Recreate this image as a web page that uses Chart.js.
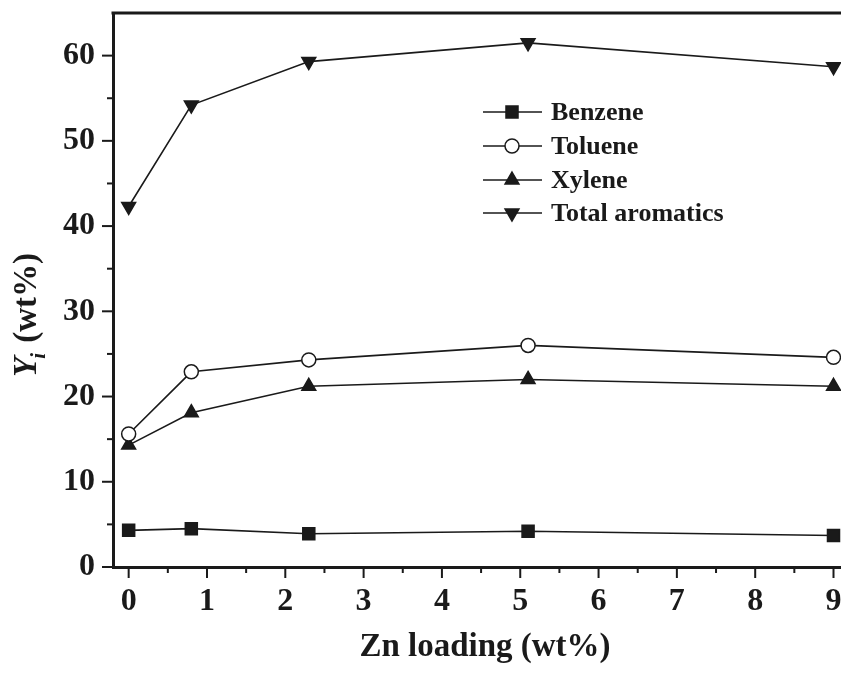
<!DOCTYPE html>
<html lang="en">
<head>
  <meta charset="UTF-8" />
  <title>Yield vs Zn loading</title>
  <script src="https://cdn.jsdelivr.net/npm/chart.js"></script>
  <style>
    html, body {
      margin: 0;
      padding: 0;
      background: #fff;
      overflow: hidden;
    }
  </style>
</head>
<body>
  <canvas id="yieldChart" width="870" height="675"></canvas>
  <script>
    // data
    const znLoading = [0, 0.8, 2.3, 5.1, 9];
    const benzene = [4.3, 4.5, 3.9, 4.2, 3.7];
    const toluene = [15.6, 22.9, 24.3, 26.0, 24.6];
    const xylene = [14.3, 18.1, 21.2, 22.0, 21.2];
    const totalAromatics = [42.3, 54.2, 59.3, 61.5, 58.7];

    const xTicks = [0, 1, 2, 3, 4, 5, 6, 7, 8, 9];
    const xMinorTicks = [0.5, 1.5, 2.5, 3.5, 4.5, 5.5, 6.5, 7.5, 8.5];
    const yTicks = [0, 10, 20, 30, 40, 50, 60];
    const yMinorTicks = [5, 15, 25, 35, 45, 55];

    const ink = '#1a1a1a';
    const serif = '"Liberation Serif", "DejaVu Serif", serif';

    function toPoints(ys) {
      return znLoading.map((x, i) => ({ x: x, y: ys[i] }));
    }

    function series(label, ys, style, extra) {
      return Object.assign({
        label: label,
        data: toPoints(ys),
        borderColor: ink,
        borderWidth: 1.6,
        pointStyle: style,
        pointBackgroundColor: ink,
        pointBorderColor: ink,
        pointBorderWidth: 1.5,
        pointRadius: 8,
        tension: 0
      }, extra || {});
    }

    // ticks, top frame, titles and legend
    const decorations = {
      id: 'decorations',
      afterDraw(chart) {
        const ctx = chart.ctx;
        const area = chart.chartArea;
        const xs = chart.scales.x;
        const ys = chart.scales.y;
        ctx.save();
        ctx.strokeStyle = ink;

        ctx.lineWidth = 3;
        ctx.beginPath();
        ctx.moveTo(area.left - 1.5, area.top);
        ctx.lineTo(area.right, area.top);
        ctx.stroke();

        ctx.lineWidth = 2;
        const tick = (vals, len, isX) => {
          vals.forEach(v => {
            ctx.beginPath();
            if (isX) {
              const px = xs.getPixelForValue(v);
              ctx.moveTo(px, area.bottom);
              ctx.lineTo(px, area.bottom + len);
            } else {
              const py = ys.getPixelForValue(v);
              ctx.moveTo(area.left, py);
              ctx.lineTo(area.left - len, py);
            }
            ctx.stroke();
          });
        };
        tick(xTicks, 11, true);
        tick(xMinorTicks, 6, true);
        tick(yTicks, 11, false);
        tick(yMinorTicks, 6, false);

        // x title
        ctx.fillStyle = ink;
        ctx.font = 'bold 33px ' + serif;
        ctx.textAlign = 'center';
        ctx.textBaseline = 'alphabetic';
        ctx.fillText('Zn loading (wt%)', 485, 656);

        // y title with subscript
        ctx.save();
        ctx.translate(36, 315);
        ctx.rotate(-Math.PI / 2);
        ctx.textAlign = 'left';
        const bigI = 'italic bold 33px ' + serif;
        const subI = 'italic bold 21px ' + serif;
        const bold = 'bold 33px ' + serif;
        ctx.font = bigI;
        const wY = ctx.measureText('Y').width;
        ctx.font = subI;
        const wi = ctx.measureText('i').width;
        ctx.font = bold;
        const wRest = ctx.measureText(' (wt%)').width;
        let x0 = -(wY + wi + wRest) / 2;
        ctx.font = bigI;
        ctx.fillText('Y', x0, 0);
        ctx.font = subI;
        ctx.fillText('i', x0 + wY - 2, 9);
        ctx.font = bold;
        ctx.fillText(' (wt%)', x0 + wY + wi, 0);
        ctx.restore();

        // legend
        const rowY = [112, 146, 180, 213];
        ctx.font = 'bold 26px ' + serif;
        ctx.textAlign = 'left';
        ctx.textBaseline = 'middle';
        chart.data.datasets.forEach((ds, i) => {
          const y = rowY[i];
          ctx.lineWidth = 1.6;
          ctx.strokeStyle = ink;
          ctx.beginPath();
          ctx.moveTo(483, y);
          ctx.lineTo(542, y);
          ctx.stroke();
          ctx.fillStyle = ds.pointBackgroundColor;
          ctx.lineWidth = ds.pointBorderWidth;
          Chart.helpers.drawPoint(ctx, {
            pointStyle: ds.pointStyle,
            rotation: ds.pointRotation || 0,
            radius: ds.pointRadius,
            borderWidth: ds.pointBorderWidth
          }, 512, y);
          ctx.fillStyle = ink;
          ctx.fillText(ds.label, 551, y + 1);
        });
        ctx.restore();
      }
    };

    const chart = new Chart(document.getElementById('yieldChart'), {
      type: 'line',
      data: {
        datasets: [
          series('Benzene', benzene, 'rect', { pointRadius: 8.5 }),
          series('Toluene', toluene, 'circle', { pointBackgroundColor: '#fff', pointRadius: 7 }),
          series('Xylene', xylene, 'triangle'),
          series('Total aromatics', totalAromatics, 'triangle', { pointRotation: 180 })
        ]
      },
      options: {
        responsive: false,
        animation: false,
        layout: { padding: { top: 13, right: 13, left: 0, bottom: 0 } },
        plugins: {
          legend: { display: false },
          tooltip: { enabled: false }
        },
        scales: {
          x: {
            type: 'linear',
            min: -0.2,
            max: 9.3,
            afterFit(scale) {
              scale.height = 108;
              scale.paddingLeft = 0;
              scale.paddingRight = 0;
            },
            afterBuildTicks(scale) { scale.ticks = xTicks.map(v => ({ value: v })); },
            grid: { display: false },
            border: { display: true, color: ink, width: 3 },
            ticks: {
              color: ink,
              padding: 8,
              font: { family: serif, size: 32, weight: 'bold' }
            }
          },
          y: {
            min: 0,
            max: 65,
            afterFit(scale) {
              scale.width = 113;
              scale.paddingTop = 0;
              scale.paddingBottom = 0;
            },
            afterBuildTicks(scale) { scale.ticks = yTicks.map(v => ({ value: v })); },
            grid: { display: false },
            border: { display: true, color: ink, width: 3 },
            ticks: {
              color: ink,
              padding: 10,
              font: { family: serif, size: 32, weight: 'bold' }
            }
          }
        }
      },
      plugins: [decorations]
    });
  </script>
</body>
</html>
